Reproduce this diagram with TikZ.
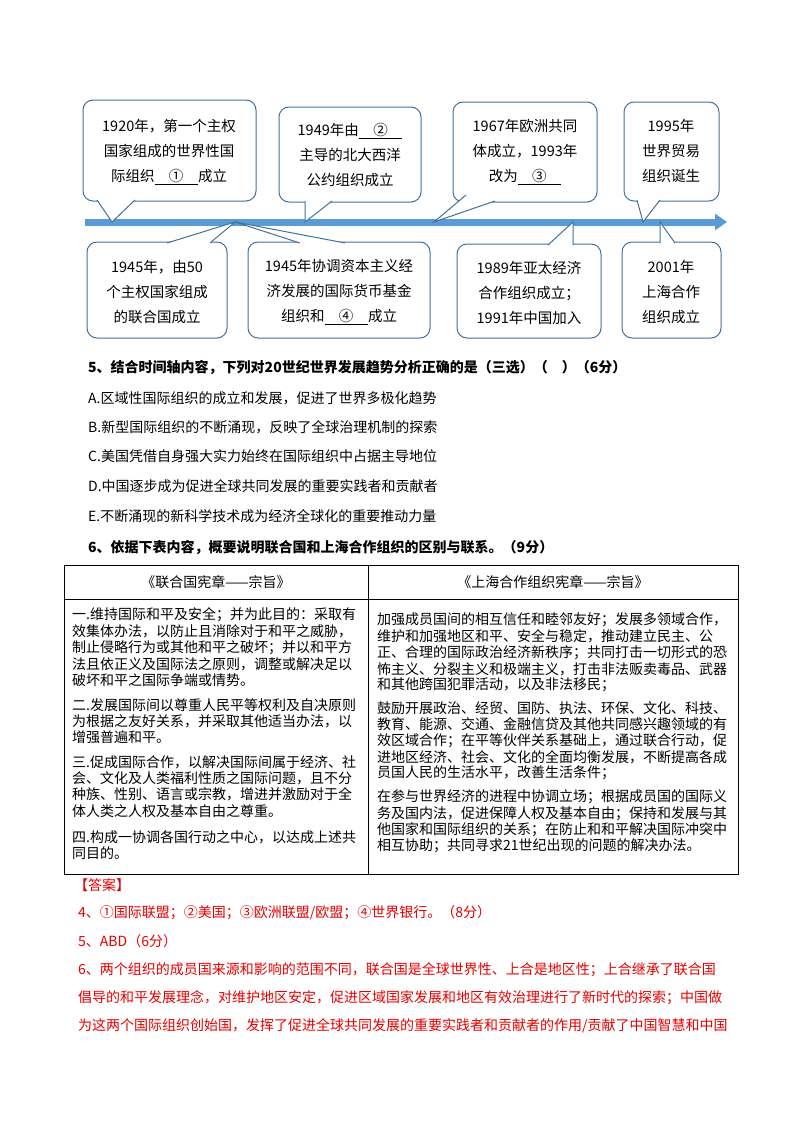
\documentclass[tikz,border=0pt]{standalone}
\usepackage{fontspec}
\usetikzlibrary{arrows.meta}
\setmainfont{Noto Sans CJK SC}
\definecolor{tl}{RGB}{91,155,213}
\definecolor{bd}{RGB}{65,113,156}
\definecolor{ans}{RGB}{230,0,0}
\tikzset{
 cbox/.style={draw=bd,line width=1pt,fill=white,rounded corners=10pt},
 tx/.style={anchor=west,inner sep=0pt,font=\fontsize{14}{14}\selectfont},
 tb/.style={anchor=west,inner sep=0pt,font=\fontsize{14}{14}\selectfont},
 cl/.style={align=center,inner sep=0pt,font=\fontsize{14.5}{25}\selectfont},
 an/.style={anchor=west,inner sep=0pt,text=ans,font=\fontsize{14}{14}\selectfont},
}
\newcommand{\blk}[1]{\underline{\makebox[3em]{#1}}}
\newcommand{\tail}[3]{% base1 base2 tip
 \fill[white] #1 -- #3 -- #2 -- cycle;
 \draw[bd,line width=1pt] #1 -- #3 -- #2;}
\begin{document}
\begin{tikzpicture}[x=1pt,y=-1pt]
\useasboundingbox (0,0) rectangle (800,1132);
% timeline arrow
\draw[tl,line width=7pt,-{Triangle[length=12pt,width=16pt]}] (85,222) -- (727,222);
% boxes
\draw[cbox] (83,100) rectangle (256,201);
\draw[cbox] (279,107) rectangle (421,202);
\draw[cbox] (453,102) rectangle (597,202);
\draw[cbox] (624,102) rectangle (719,201);
\draw[cbox] (87,242) rectangle (227,338);
\draw[cbox] (248,242) rectangle (430,338);
\draw[cbox] (457,244) rectangle (601,338);
\draw[cbox] (622,242) rectangle (721,338);
% tails
\tail{(97,200)}{(135,200)}{(112,222)}
\tail{(305,201)}{(332,201)}{(305,222)}
\tail{(466,195)}{(495,201)}{(434,222)}
\tail{(637,200)}{(660,200)}{(643,222)}
\tail{(167,243)}{(210,243)}{(235,222)}
\tail{(300,243)}{(345,243)}{(235,222)}
\tail{(548,245)}{(573,245)}{(573,222)}
\tail{(660,243)}{(675,243)}{(660,222)}
% box texts
\node[cl] (t1) at (169,152) {1920年，第一个主权\\国家组成的世界性国\\际组织\blk{①}成立};
\node[cl] (t2) at (350,155) {1949年由\blk{②}\\主导的北大西洋\\公约组织成立};
\node[cl] (t3) at (525,152) {1967年欧洲共同\\体成立，1993年\\改为\blk{③}};
\node[cl] (t4) at (671,151) {1995年\\世界贸易\\组织诞生};
\node[cl] (t5) at (157,292) {1945年，由50\\个主权国家组成\\的联合国成立};
\node[cl] (t6) at (339,292) {1945年协调资本主义经\\济发展的国际货币基金\\组织和\blk{④}成立};
\node[cl] (t7) at (529,293) {1989年亚太经济\\合作组织成立；\\1991年中国加入};
\node[cl] (t8) at (671,292) {2001年\\上海合作\\组织成立};
% questions
\node[tx,font=\bfseries\fontsize{14}{14}\selectfont] (q5) at (88,367) {5、结合时间轴内容，下列对20世纪世界发展趋势分析正确的是（三选）（\quad）（6分）};
\node[tx] (qa) at (88,398) {A.区域性国际组织的成立和发展，促进了世界多极化趋势};
\node[tx] (qb) at (88,427) {B.新型国际组织的不断涌现，反映了全球治理机制的探索};
\node[tx] (qc) at (88,456) {C.美国凭借自身强大实力始终在国际组织中占据主导地位};
\node[tx] (qd) at (88,486) {D.中国逐步成为促进全球共同发展的重要实践者和贡献者};
\node[tx] (qe) at (88,516) {E.不断涌现的新科学技术成为经济全球化的重要推动力量};
\node[tx,font=\bfseries\fontsize{14}{14}\selectfont] (q6) at (88,547) {6、依据下表内容，概要说明联合国和上海合作组织的区别与联系。（9分）};
% table
\draw[line width=0.8pt] (64,565) rectangle (738,874);
\draw[line width=0.8pt] (64,599) -- (738,599);
\draw[line width=0.8pt] (368,565) -- (368,874);
\node[inner sep=0pt,font=\fontsize{14}{14}\selectfont] (h1) at (216,582) {《联合国宪章——宗旨》};
\node[inner sep=0pt,font=\fontsize{14}{14}\selectfont] (h2) at (553,582) {《上海合作组织宪章——宗旨》};
\foreach \t [count=\i] in {一.维持国际和平及安全；并为此目的：采取有,效集体办法，以防止且消除对于和平之威胁，,制止侵略行为或其他和平之破坏；并以和平方,法且依正义及国际法之原则，调整或解决足以,破坏和平之国际争端或情势。}
  \node[tb] (l1\i) at (72,615+16.3*\i-16.3) {\t};
\foreach \t [count=\i] in {二.发展国际间以尊重人民平等权利及自决原则,为根据之友好关系，并采取其他适当办法，以,增强普遍和平。}
  \node[tb] (l2\i) at (72,705+16.3*\i-16.3) {\t};
\foreach \t [count=\i] in {三.促成国际合作，以解决国际间属于经济、社,会、文化及人类福利性质之国际问题，且不分,种族、性别、语言或宗教，增进并激励对于全,体人类之人权及基本自由之尊重。}
  \node[tb] (l3\i) at (72,762+16.3*\i-16.3) {\t};
\foreach \t [count=\i] in {四.构成一协调各国行动之中心，以达成上述共,同目的。}
  \node[tb] (l4\i) at (72,837+16.3*\i-16.3) {\t};
\foreach \t [count=\i] in {加强成员国间的相互信任和睦邻友好；发展多领域合作，,维护和加强地区和平、安全与稳定，推动建立民主、公,正、合理的国际政治经济新秩序；共同打击一切形式的恐,怖主义、分裂主义和极端主义，打击非法贩卖毒品、武器,和其他跨国犯罪活动，以及非法移民；}
  \node[tb] (r1\i) at (377,620+16.3*\i-16.3) {\t};
\foreach \t [count=\i] in {鼓励开展政治、经贸、国防、执法、环保、文化、科技、,教育、能源、交通、金融信贷及其他共同感兴趣领域的有,效区域合作；在平等伙伴关系基础上，通过联合行动，促,进地区经济、社会、文化的全面均衡发展，不断提高各成,员国人民的生活水平，改善生活条件；}
  \node[tb] (r2\i) at (377,708+16.3*\i-16.3) {\t};
\foreach \t [count=\i] in {在参与世界经济的进程中协调立场；根据成员国的国际义,务及国内法，促进保障人权及基本自由；保持和发展与其,他国家和国际组织的关系；在防止和和平解决国际冲突中,相互协助；共同寻求21世纪出现的问题的解决办法。}
  \node[tb] (r3\i) at (377,797+16.3*\i-16.3) {\t};
% answers
\node[an] (a0) at (74,885) {【答案】};
\node[an] (a4) at (78,913) {4、①国际联盟；②美国；③欧洲联盟/欧盟；④世界银行。（8分）};
\node[an] (a5) at (78,941) {5、ABD（6分）};
\node[an] (a61) at (78,970) {6、两个组织的成员国来源和影响的范围不同，联合国是全球世界性、上合是地区性；上合继承了联合国};
\node[an] (a62) at (78,998) {倡导的和平发展理念，对维护地区安定，促进区域国家发展和地区有效治理进行了新时代的探索；中国做};
\node[an] (a63) at (78,1026) {为这两个国际组织创始国，发挥了促进全球共同发展的重要实践者和贡献者的作用/贡献了中国智慧和中国};
\end{tikzpicture}
\end{document}
